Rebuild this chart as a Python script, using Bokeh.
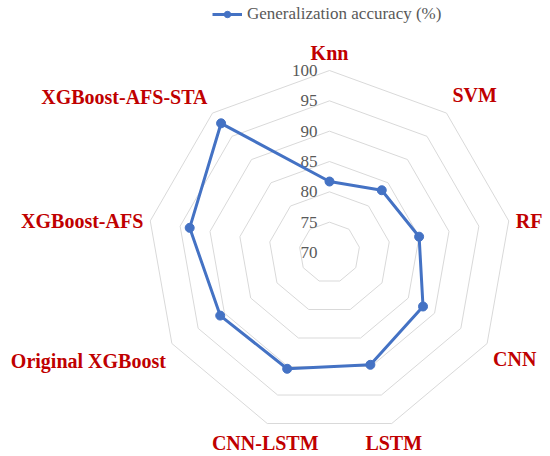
import numpy as np
from bokeh.plotting import figure
from bokeh.models import Range1d, ColumnDataSource, Legend, LegendItem
from bokeh.core.properties import value
from bokeh.embed import file_html
from bokeh.resources import INLINE

# ---- data ----
categories = ["Knn", "SVM", "RF", "CNN", "LSTM", "CNN-LSTM",
              "Original XGBoost", "XGBoost-AFS", "XGBoost-AFS-STA"]
accuracy = [81.7, 83.4, 85.0, 87.8, 89.7, 90.4, 90.8, 93.4, 97.8]
tick_values = [70, 75, 80, 85, 90, 95, 100]
series_name = "Generalization accuracy (%)"

# ---- styles ----
W, H = 550, 456
PX = 182.0 / 30.0          # pixels per accuracy unit
CX, CY = 329, 252          # radar centre in canvas px (from top-left)
r0 = tick_values[0]
n = len(categories)
ang = np.arange(n) * 2 * np.pi / n

def polar(vals):
    r = np.asarray(vals, dtype=float) - r0
    return r * np.sin(ang), r * np.cos(ang)

p = figure(width=W, height=H, output_backend="svg", toolbar_location=None,
           x_range=Range1d(-CX / PX, (W - CX) / PX),
           y_range=Range1d(-(H - CY) / PX, CY / PX),
           min_border=0, outline_line_color=None)
p.axis.visible = False
p.grid.visible = False
p.background_fill_color = "white"

# grid rings
rx, ry = [], []
for t in tick_values[1:]:
    x, y = polar([t] * n)
    rx.append(list(x) + [x[0]])
    ry.append(list(y) + [y[0]])
p.multi_line(rx, ry, line_color="#D9D9D9", line_width=1)

# scale labels
p.text(x=[0] * len(tick_values), y=[t - r0 for t in tick_values],
       text=[str(t) for t in tick_values], text_align="right",
       text_baseline="middle", x_offset=-12, text_font=value("Liberation Serif"),
       text_font_size="17px", text_color="#595959")

# series
sx, sy = polar(accuracy)
src = ColumnDataSource(dict(x=list(sx) + [sx[0]], y=list(sy) + [sy[0]]))
ln = p.line("x", "y", source=src, line_color="#4472C4", line_width=3)
pts = p.scatter(list(sx), list(sy), size=9, fill_color="#4472C4",
                line_color="#4472C4")

# category labels
ox, oy = polar([tick_values[-1]] * n)
x_off = [0, 6, 7, 6, 2, -2, -6, -7, -5]
y_off = [-18, -18, 0, 15, 19, 19, 17, 0, -16]
aligns = ["center", "left", "left", "left", "center", "center",
          "right", "right", "right"]
lab = ColumnDataSource(dict(x=list(ox), y=list(oy), t=categories,
                            xo=x_off, yo=y_off, a=aligns))
p.text(x="x", y="y", text="t", source=lab, x_offset="xo", y_offset="yo",
       text_align="a", text_baseline="middle",
       text_font=value("Liberation Serif"), text_font_style="bold",
       text_font_size="20px", text_color="#C00000")

legend = Legend(items=[LegendItem(label=series_name, renderers=[ln, pts])],
                location=(212, H - 24), orientation="horizontal",
                border_line_color=None, background_fill_alpha=0,
                padding=0, margin=0, glyph_width=30, glyph_height=16,
                label_height=16, label_standoff=5,
                label_text_font="Liberation Serif", label_text_font_size="17px",
                label_text_color="#595959")
p.add_layout(legend, "center")

open("out.html", "w").write(file_html(p, INLINE))
